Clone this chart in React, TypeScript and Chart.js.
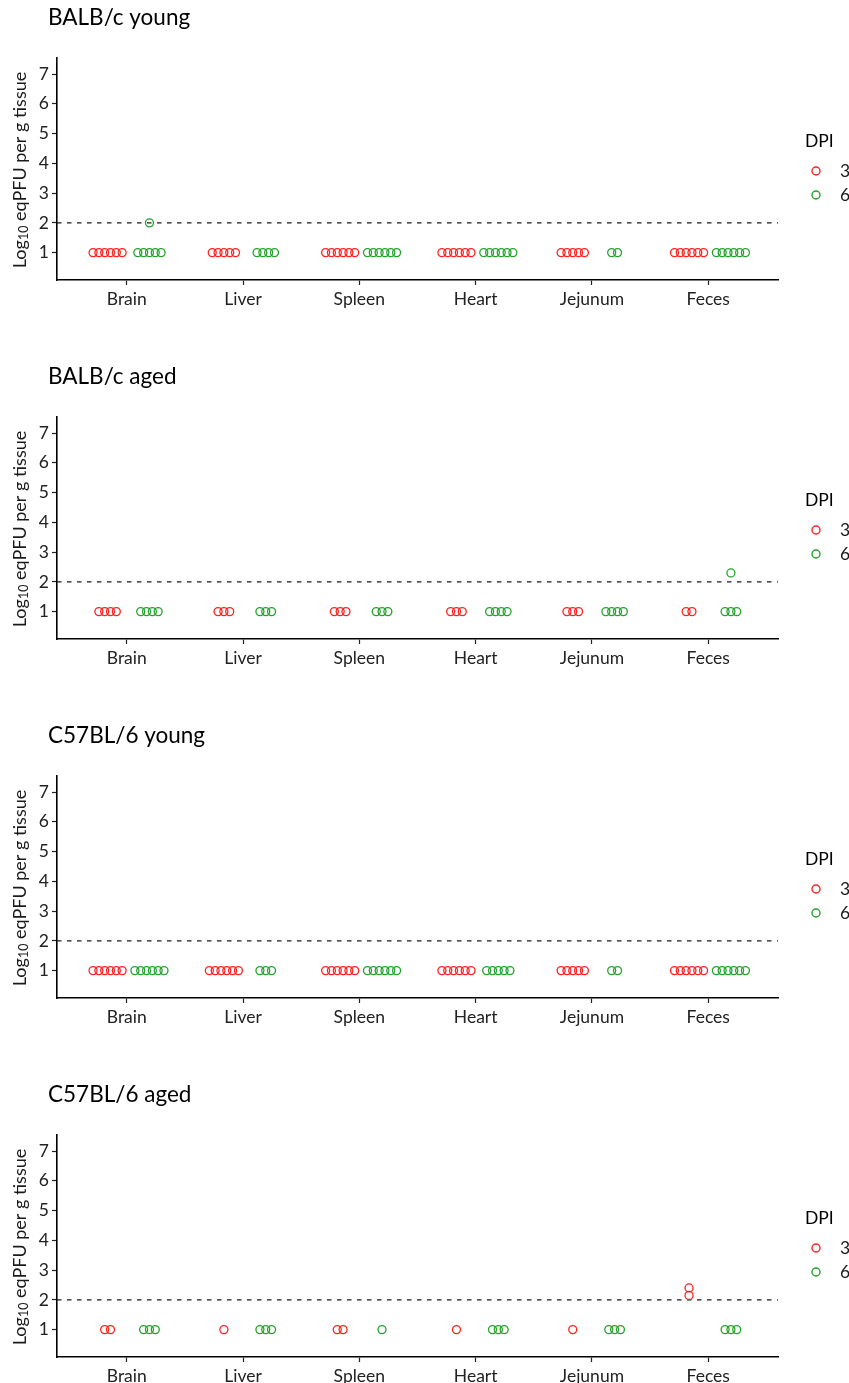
import React, { useEffect, useRef } from "react";
import { Chart, registerables } from "chart.js";

Chart.register(...registerables);

const tissues = ["Brain", "Liver", "Spleen", "Heart", "Jejunum", "Feces"];
const dpiLabels = ["3", "6"];
const panelTitles = ["BALB/c young", "BALB/c aged", "C57BL/6 young", "C57BL/6 aged"];
const yTicks = [1, 2, 3, 4, 5, 6, 7];
const detectionLimit = 2;

// values per tissue (log10 eqPFU per g tissue)
const balbYoungDpi3 = [[1, 1, 1, 1, 1, 1], [1, 1, 1, 1, 1], [1, 1, 1, 1, 1, 1], [1, 1, 1, 1, 1, 1], [1, 1, 1, 1, 1], [1, 1, 1, 1, 1, 1]];
const balbYoungDpi6 = [[1, 1, 1, 1, 1, 2], [1, 1, 1, 1], [1, 1, 1, 1, 1, 1], [1, 1, 1, 1, 1, 1], [1, 1], [1, 1, 1, 1, 1, 1]];
const balbAgedDpi3 = [[1, 1, 1, 1], [1, 1, 1], [1, 1, 1], [1, 1, 1], [1, 1, 1], [1, 1]];
const balbAgedDpi6 = [[1, 1, 1, 1], [1, 1, 1], [1, 1, 1], [1, 1, 1, 1], [1, 1, 1, 1], [1, 1, 1, 2.3]];
const c57YoungDpi3 = [[1, 1, 1, 1, 1, 1], [1, 1, 1, 1, 1, 1], [1, 1, 1, 1, 1, 1], [1, 1, 1, 1, 1, 1], [1, 1, 1, 1, 1], [1, 1, 1, 1, 1, 1]];
const c57YoungDpi6 = [[1, 1, 1, 1, 1, 1], [1, 1, 1], [1, 1, 1, 1, 1, 1], [1, 1, 1, 1, 1], [1, 1], [1, 1, 1, 1, 1, 1]];
const c57AgedDpi3 = [[1, 1], [1], [1, 1], [1], [1], [2.4, 2.15]];
const c57AgedDpi6 = [[1, 1, 1], [1, 1, 1], [1], [1, 1, 1], [1, 1, 1], [1, 1, 1]];

const panelData = [
  [balbYoungDpi3, balbYoungDpi6],
  [balbAgedDpi3, balbAgedDpi6],
  [c57YoungDpi3, c57YoungDpi6],
  [c57AgedDpi3, c57AgedDpi6],
];

const RED = "#FF2020";
const GREEN = "#22A22B";
const FONT = "Lato, 'Open Sans', sans-serif";
const PANEL_W = 849;
const PANEL_H = 359;
const DODGE = [-0.165, 0.195];
const SWARM_STEP = 0.05;

function buildPoints(groups: number[][], dodge: number) {
  const pts: { x: number; y: number }[] = [];
  groups.forEach((vals, i) => {
    const counts = new Map<number, number>();
    vals.forEach((v) => counts.set(v, (counts.get(v) || 0) + 1));
    const seen = new Map<number, number>();
    vals.forEach((v) => {
      const m = counts.get(v)!;
      const k = seen.get(v) || 0;
      seen.set(v, k + 1);
      pts.push({ x: i + dodge + (k - (m - 1) / 2) * SWARM_STEP, y: v });
    });
  });
  return pts;
}

const decorPlugin = {
  id: "panelDecor",
  afterDraw(chart: any, _args: any, opts: any) {
    const ctx = chart.ctx;
    const area = chart.chartArea;
    ctx.save();
    // panel title
    ctx.fillStyle = "#000";
    ctx.font = `22.5px ${FONT}`;
    ctx.textBaseline = "middle";
    ctx.textAlign = "left";
    ctx.fillText(opts.title, 48, 18);

    // y axis title with subscript
    const cy = (area.top + area.bottom) / 2 + 1;
    ctx.translate(20, cy);
    ctx.rotate(-Math.PI / 2);
    const big = `18px ${FONT}`;
    const small = `12.5px ${FONT}`;
    const parts = [
      { t: "Log", f: big, dy: 0 },
      { t: "10", f: small, dy: 4 },
      { t: " eqPFU per g tissue", f: big, dy: 0 },
    ];
    let total = 0;
    parts.forEach((p) => {
      ctx.font = p.f;
      total += ctx.measureText(p.t).width;
    });
    let x = -total / 2;
    ctx.fillStyle = "#1a1a1a";
    ctx.textAlign = "left";
    ctx.textBaseline = "middle";
    parts.forEach((p) => {
      ctx.font = p.f;
      ctx.fillText(p.t, x, p.dy);
      x += ctx.measureText(p.t).width;
    });
    ctx.restore();

    // legend
    ctx.save();
    const lx = area.right + 27;
    const lcy = (area.top + area.bottom) / 2;
    ctx.fillStyle = "#000";
    ctx.font = `17.5px ${FONT}`;
    ctx.textBaseline = "middle";
    ctx.textAlign = "left";
    ctx.fillText("DPI", lx, lcy - 28);
    const ds = chart.data.datasets.filter((d: any) => d.isGroup);
    ds.forEach((d: any, i: number) => {
      const y = lcy + 2 + i * 24;
      ctx.beginPath();
      ctx.arc(lx + 11, y, 4, 0, Math.PI * 2);
      ctx.strokeStyle = d.borderColor;
      ctx.lineWidth = 1.4;
      ctx.stroke();
      ctx.fillStyle = "#1a1a1a";
      ctx.fillText(d.label, lx + 35, y);
    });
    ctx.restore();
  },
};

function Panel({ index }: { index: number }) {
  const ref = useRef<HTMLCanvasElement | null>(null);
  useEffect(() => {
    if (!ref.current) return;
    const [d3, d6] = panelData[index];
    const chart = new Chart(ref.current, {
      type: "scatter",
      data: {
        datasets: [
          {
            label: "limit",
            type: "line",
            data: [
              { x: -0.6, y: detectionLimit },
              { x: tissues.length - 0.4, y: detectionLimit },
            ],
            borderColor: "#1a1a1a",
            borderWidth: 1.2,
            borderDash: [4.5, 5.5],
            pointRadius: 0,
            order: 2,
          } as any,
          {
            label: dpiLabels[0],
            isGroup: true,
            data: buildPoints(d3, DODGE[0]),
            borderColor: RED,
            backgroundColor: "rgba(0,0,0,0)",
            pointRadius: 4,
            pointBorderWidth: 1.3,
            order: 1,
          } as any,
          {
            label: dpiLabels[1],
            isGroup: true,
            data: buildPoints(d6, DODGE[1]),
            borderColor: GREEN,
            backgroundColor: "rgba(0,0,0,0)",
            pointRadius: 4,
            pointBorderWidth: 1.3,
            order: 1,
          } as any,
        ],
      },
      options: {
        animation: false,
        responsive: false,
        devicePixelRatio: 1,
        layout: { padding: { left: 0, right: 71, top: 58, bottom: 0 } },
        plugins: {
          legend: { display: false },
          tooltip: { enabled: false },
          title: { display: false },
          panelDecor: { title: panelTitles[index] },
        } as any,
        scales: {
          x: {
            type: "linear",
            min: -0.6,
            max: tissues.length - 0.4,
            afterBuildTicks: (s: any) => {
              s.ticks = tissues.map((_, i) => ({ value: i }));
            },
            afterFit: (s: any) => {
              s.height = 79;
            },
            ticks: {
              callback: (v: any) => tissues[Math.round(Number(v))] ?? "",
              font: { family: FONT, size: 17.5 },
              color: "#222",
              padding: 4,
              maxRotation: 0,
              autoSkip: false,
            },
            grid: { display: true, drawOnChartArea: false, drawTicks: true, tickLength: 5, color: "#222", tickWidth: 1.2 },
            border: { display: true, color: "#000", width: 1.6 },
          },
          y: {
            type: "linear",
            min: 0.08,
            max: 7.54,
            afterBuildTicks: (s: any) => {
              s.ticks = yTicks.map((v) => ({ value: v }));
            },
            afterFit: (s: any) => {
              s.width = 57;
            },
            ticks: {
              font: { family: FONT, size: 17.5 },
              color: "#222",
              padding: 3,
            },
            grid: { display: true, drawOnChartArea: false, drawTicks: true, tickLength: 5, color: "#222", tickWidth: 1.2 },
            border: { display: true, color: "#000", width: 1.6 },
          },
        },
      },
      plugins: [decorPlugin],
    });
    return () => chart.destroy();
  }, [index]);
  return <canvas ref={ref} width={PANEL_W} height={PANEL_H} style={{ display: "block", width: PANEL_W, height: PANEL_H }} />;
}

export default function App() {
  return (
    <div style={{ position: "absolute", top: 0, left: 0, width: PANEL_W, background: "#fff" }}>
      {panelTitles.map((_, i) => (
        <Panel key={i} index={i} />
      ))}
    </div>
  );
}
